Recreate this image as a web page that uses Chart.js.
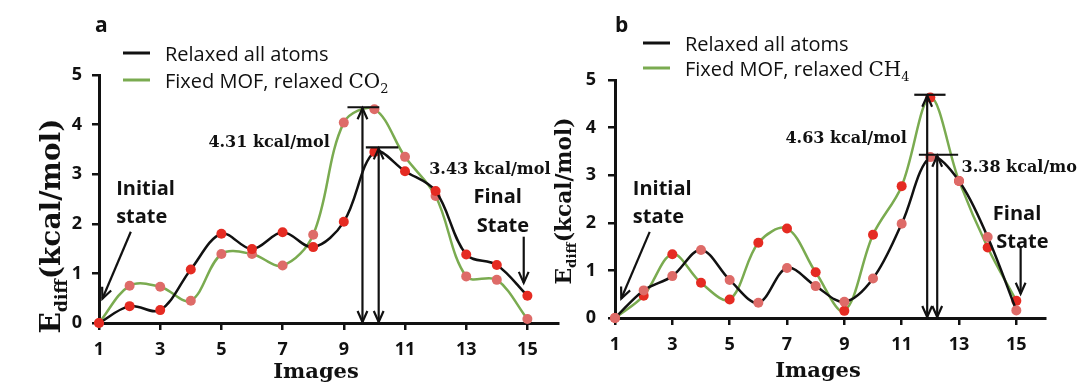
<!DOCTYPE html>
<html>
<head>
<meta charset="utf-8">
<script src="https://cdn.jsdelivr.net/npm/chart.js@4.4.0/dist/chart.umd.min.js"></script>
<style>
  body { margin: 0; background: #fff; width: 1080px; height: 389px; position: relative; overflow: hidden; }
  canvas { position: absolute; top: 0; }
  #chartA { left: 0; }
  #chartB { left: 540px; }
</style>
</head>
<body>
<canvas id="chartA" width="570" height="389"></canvas>
<canvas id="chartB" width="540" height="389"></canvas>
<script>
// Data
const IMAGES = [1, 2, 3, 4, 5, 6, 7, 8, 9, 10, 11, 12, 13, 14, 15];
const X_TICKS = [1, 3, 5, 7, 9, 11, 13, 15];
const Y_TICKS = [0, 1, 2, 3, 4, 5];

// panel a (CO2)
const A_RELAXED = [0, 0.34, 0.26, 1.08, 1.80, 1.49, 1.83, 1.53, 2.04, 3.45, 3.06, 2.66, 1.38, 1.17, 0.55];
const A_FIXED   = [0, 0.75, 0.73, 0.45, 1.39, 1.39, 1.16, 1.78, 4.04, 4.31, 3.35, 2.56, 0.94, 0.87, 0.08];
// panel b (CH4)
const B_RELAXED = [0, 0.58, 0.88, 1.43, 0.80, 0.32, 1.05, 0.67, 0.34, 0.83, 1.98, 3.38, 2.88, 1.70, 0.16];
const B_FIXED   = [0, 0.47, 1.34, 0.74, 0.39, 1.58, 1.88, 0.96, 0.15, 1.75, 2.77, 4.63, 2.88, 1.48, 0.36];

const LEGEND_RELAXED = "Relaxed all atoms";
const LEGEND_FIXED = "Fixed MOF, relaxed ";

const BLACK = "#111111";
const GREEN = "#7aab50";
const RED = "#e52b22";
const PINK = "#de6b68";
const SANS = '"Open Sans"';
const SERIF = '"DejaVu Serif"';

function points(vals) {
  return IMAGES.map((x, i) => ({ x: x, y: vals[i] }));
}

function series(label, vals, color, dot) {
  return {
    label: label,
    data: points(vals),
    borderColor: color,
    borderWidth: 2.5,
    tension: 0.35,
    pointRadius: 5,
    pointHoverRadius: 5,
    pointBorderWidth: 0,
    pointBackgroundColor: dot,
    fill: false,
    clip: false
  };
}

// arrows
function head(ctx, x, y, a) {
  const L = 12, W = 0.42;
  ctx.beginPath();
  ctx.moveTo(x - L * Math.cos(a - W), y - L * Math.sin(a - W));
  ctx.lineTo(x, y);
  ctx.lineTo(x - L * Math.cos(a + W), y - L * Math.sin(a + W));
  ctx.stroke();
}
function arrow(ctx, x1, y1, x2, y2, both) {
  ctx.beginPath();
  ctx.moveTo(x1, y1);
  ctx.lineTo(x2, y2);
  ctx.stroke();
  head(ctx, x2, y2, Math.atan2(y2 - y1, x2 - x1));
  if (both) head(ctx, x1, y1, Math.atan2(y1 - y2, x1 - x2));
}

// text made of runs: [text, font, dy]
function runs(ctx, parts, x, y) {
  parts.forEach(p => {
    ctx.font = p[1];
    ctx.fillText(p[0], x, y + (p[2] || 0));
    x += ctx.measureText(p[0]).width;
  });
}

function yTitle(ctx, baseX, cy, len) {
  const parts = [["E", 1, 0], ["diff", 0.62, 0.25], ["(kcal/mol)", 1, 0]];
  let w = 0;
  parts.forEach(p => { ctx.font = "bold " + (20 * p[1]) + "px " + SERIF; w += ctx.measureText(p[0]).width; });
  const s = 20 * len / w;
  ctx.save();
  ctx.translate(baseX, cy);
  ctx.rotate(-Math.PI / 2);
  ctx.textAlign = "left";
  ctx.textBaseline = "alphabetic";
  runs(ctx, parts.map(p => [p[0], "bold " + (s * p[1]) + "px " + SERIF, p[2] * s]), -len / 2, 0);
  ctx.restore();
}

const deco = {
  id: "deco",
  afterDraw(chart, args, o) {
    const ctx = chart.ctx;
    const X = v => chart.scales.x.getPixelForValue(v);
    const Y = v => chart.scales.y.getPixelForValue(v);
    ctx.save();
    ctx.fillStyle = BLACK;
    ctx.strokeStyle = BLACK;
    ctx.textBaseline = "alphabetic";

    // panel letter
    ctx.textAlign = "left";
    ctx.font = "bold 21px " + SANS;
    ctx.fillText(o.letter, o.letterPos[0], o.letterPos[1]);

    // legend
    const lg = o.legend;
    ctx.lineWidth = 3;
    [[BLACK, lg.y[0], [[LEGEND_RELAXED, "20px " + SANS]]],
     [GREEN, lg.y[1], [[LEGEND_FIXED, "20px " + SANS], [o.gas[0], "20px " + SERIF], [o.gas[1], "13px " + SERIF, 5]]]]
      .forEach(r => {
        ctx.strokeStyle = r[0];
        ctx.beginPath();
        ctx.moveTo(lg.x[0], r[1]);
        ctx.lineTo(lg.x[1], r[1]);
        ctx.stroke();
        runs(ctx, r[2], lg.textX, r[1] + 8);
      });
    ctx.strokeStyle = BLACK;

    // axis titles
    yTitle(ctx, o.yTitle[0], o.yTitle[1], o.yTitle[2]);
    ctx.textAlign = "center";
    ctx.font = "bold 21px " + SERIF;
    ctx.fillText("Images", o.xTitle[0], o.xTitle[1]);

    // barrier markers
    ctx.lineWidth = 2.2;
    o.barriers.forEach(b => {
      ctx.beginPath();
      ctx.moveTo(X(b.from), Y(b.top));
      ctx.lineTo(X(b.to), Y(b.top));
      ctx.stroke();
      arrow(ctx, X(b.x), Y(0) - 1, X(b.x), Y(b.top) + 1, true);
    });

    // barrier labels
    ctx.font = "bold 16px " + SERIF;
    ctx.textBaseline = "middle";
    o.labels.forEach(l => {
      ctx.textAlign = l.align;
      ctx.fillText(l.text, X(l.x), Y(l.y));
    });

    // state labels
    ctx.textBaseline = "alphabetic";
    ctx.font = "bold 20px " + SANS;
    o.states.forEach(s => {
      ctx.textAlign = s.align;
      s.lines.forEach((t, i) => ctx.fillText(t, X(s.x[i]), Y(s.y[i])));
      arrow(ctx, X(s.arrow[0]), Y(s.arrow[1]), X(s.arrow[2]), Y(s.arrow[3]), false);
    });
    ctx.restore();
  }
};

function makeChart(id, relaxed, fixed, relaxedDot, fixedDot, lay, decoOpts) {
  const axisTicks = { drawOnChartArea: false, drawTicks: true, tickLength: 7, color: BLACK, lineWidth: 2.5 };
  const tickFont = { family: SANS, size: 18, weight: "bold" };
  return new Chart(document.getElementById(id), {
    type: "line",
    data: {
      datasets: [
        series(LEGEND_RELAXED, relaxed, BLACK, relaxedDot),
        series(LEGEND_FIXED, fixed, GREEN, fixedDot)
      ]
    },
    options: {
      responsive: false,
      animation: false,
      layout: { padding: { top: lay.top, right: lay.right, left: 0, bottom: 0 } },
      plugins: { legend: { display: false }, tooltip: { enabled: false }, deco: decoOpts },
      scales: {
        x: {
          type: "linear", min: 1, max: 16,
          afterBuildTicks: s => { s.ticks = X_TICKS.map(v => ({ value: v })); },
          afterFit: s => { s.height = lay.xHeight; },
          grid: axisTicks,
          border: { color: BLACK, width: 3 },
          ticks: { color: BLACK, padding: 9, autoSkip: false, maxRotation: 0, font: tickFont }
        },
        y: {
          type: "linear", min: 0, max: 5,
          afterBuildTicks: s => { s.ticks = Y_TICKS.map(v => ({ value: v })); },
          afterFit: s => { s.width = lay.yWidth; },
          grid: axisTicks,
          border: { color: BLACK, width: 3 },
          ticks: { color: BLACK, padding: lay.yPad, font: tickFont }
        }
      }
    },
    plugins: [deco]
  });
}

makeChart("chartA", A_RELAXED, A_FIXED, RED, PINK,
  { top: 75, right: 12, xHeight: 66, yWidth: 99, yPad: 10 },
  {
    letter: "a", letterPos: [95, 32],
    gas: ["CO", "2"],
    legend: { x: [123, 150], y: [53, 80], textX: 165 },
    yTitle: [60, 226, 215],
    xTitle: [316, 378],
    barriers: [
      { x: 9.61, top: 4.35, from: 9.12, to: 10.16 },
      { x: 10.14, top: 3.54, from: 9.72, to: 10.78 }
    ],
    labels: [
      { text: "4.31 kcal/mol", x: 8.54, y: 3.63, align: "right" },
      { text: "3.43 kcal/mol", x: 11.79, y: 3.08, align: "left" }
    ],
    states: [
      { lines: ["Initial", "state"], x: [1.56, 1.56], y: [2.58, 2.01], align: "left", arrow: [2.04, 1.84, 1.11, 0.49] },
      { lines: ["Final", "State"], x: [14.03, 14.2], y: [2.41, 1.84], align: "center", arrow: [14.88, 1.74, 14.88, 0.81] }
    ]
  });

makeChart("chartB", B_RELAXED, B_FIXED, PINK, RED,
  { top: 80, right: 35, xHeight: 71, yWidth: 75, yPad: 12 },
  {
    letter: "b", letterPos: [75, 32],
    gas: ["CH", "4"],
    legend: { x: [103, 130], y: [43, 68], textX: 145 },
    yTitle: [31, 201, 167],
    xTitle: [278, 377],
    barriers: [
      { x: 11.89, top: 4.69, from: 11.44, to: 12.53 },
      { x: 12.24, top: 3.43, from: 11.6, to: 12.97 }
    ],
    labels: [
      { text: "4.63 kcal/mol", x: 11.18, y: 3.76, align: "right" },
      { text: "3.38 kcal/mo", x: 13.09, y: 3.15, align: "left" }
    ],
    states: [
      { lines: ["Initial", "state"], x: [1.62, 1.62], y: [2.58, 1.99], align: "left", arrow: [2.21, 1.81, 1.22, 0.41] },
      { lines: ["Final", "State"], x: [14.18, 14.3], y: [2.06, 1.47], align: "left", arrow: [15.15, 1.49, 15.15, 0.51] }
    ]
  });
</script>
</body>
</html>
